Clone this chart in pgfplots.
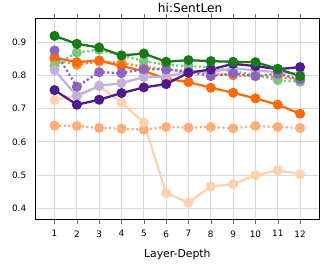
\documentclass[border=0pt]{standalone}
\usepackage{fontspec}
\setmainfont{DejaVu Sans}
\usepackage{pgfplots}
\pgfplotsset{compat=1.18}
\definecolor{dgreen}{HTML}{1A7A1A}
\definecolor{lgreen}{HTML}{7CC67C}
\definecolor{dorange}{HTML}{FD6A0A}
\definecolor{morange}{HTML}{FD8D3C}
\definecolor{lorange}{HTML}{FDAE7B}
\definecolor{peach}{HTML}{FDD3AE}
\definecolor{dpurple}{HTML}{4F1A8A}
\definecolor{mpurple}{HTML}{8E64BE}
\definecolor{lpurple}{HTML}{C4B0DD}
\begin{document}
\begin{tikzpicture}[x=1bp,y=1bp]
\begin{axis}[
  scale only axis,
  width=287bp, height=203bp,
  xmin=0.15, xmax=12.85, ymin=0.368, ymax=0.971,
  xtick={1,...,12}, ytick={0.4,0.5,0.6,0.7,0.8,0.9},
  yticklabels={0.4,0.5,0.6,0.7,0.8,0.9},
  /pgf/number format/assume math mode=true,
  tick label style={font=\fontsize{9}{10}\selectfont},
  xticklabel style={yshift=-3bp},
  yticklabel style={xshift=-1bp},
  xtick style={draw=black!60, line width=0.5bp},
  ytick style={draw=none},
  tick align=outside,
  major tick length=5bp,
  grid=major,
  grid style={gray!30, line width=1bp},
  axis line style={line width=1bp},
  title={hi:SentLen},
  title style={font=\fontsize{12.3}{14}\selectfont, yshift=-3.5bp, xshift=13bp},
  xlabel={Layer-Depth},
  xlabel style={font=\fontsize{11}{13}\selectfont, yshift=-5.5bp},
  every axis plot/.append style={line width=2.3bp, mark=*, mark size=3.9bp},
  sol/.style={solid},
  dot/.style={dash pattern=on 2.2bp off 2.4bp},
]
\addplot[color=lorange, dot, mark options={solid}] coordinates {(1,0.649)(2,0.648)(3,0.642)(4,0.640)(5,0.637)(6,0.645)(7,0.643)(8,0.645)(9,0.641)(10,0.648)(11,0.645)(12,0.642)};
\addplot[color=peach, sol] coordinates {(1,0.726)(2,0.740)(3,0.768)(4,0.718)(5,0.659)(6,0.446)(7,0.418)(8,0.466)(9,0.473)(10,0.500)(11,0.515)(12,0.503)};
\addplot[color=morange, dot, mark options={solid}] coordinates {(1,0.847)(2,0.832)(3,0.842)(4,0.838)(5,0.826)(6,0.818)(7,0.812)(8,0.806)(9,0.800)(10,0.798)(11,0.795)(12,0.788)};
\addplot[color=dorange, sol] coordinates {(1,0.854)(2,0.840)(3,0.845)(4,0.828)(5,0.813)(6,0.790)(7,0.780)(8,0.763)(9,0.748)(10,0.731)(11,0.712)(12,0.685)};
\addplot[color=lgreen, dot, mark options={solid}] coordinates {(1,0.829)(2,0.869)(3,0.877)(4,0.860)(5,0.843)(6,0.832)(7,0.828)(8,0.824)(9,0.812)(10,0.802)(11,0.786)(12,0.781)};
\addplot[color=lpurple, sol] coordinates {(1,0.816)(2,0.738)(3,0.769)(4,0.777)(5,0.795)(6,0.796)(7,0.813)(8,0.810)(9,0.822)(10,0.815)(11,0.810)(12,0.805)};
\addplot[color=mpurple, dot, mark options={solid}] coordinates {(1,0.875)(2,0.766)(3,0.810)(4,0.807)(5,0.819)(6,0.818)(7,0.811)(8,0.798)(9,0.806)(10,0.798)(11,0.805)(12,0.788)};
\addplot[color=dpurple, sol] coordinates {(1,0.756)(2,0.712)(3,0.727)(4,0.747)(5,0.764)(6,0.774)(7,0.808)(8,0.818)(9,0.835)(10,0.828)(11,0.819)(12,0.825)};
\addplot[color=dgreen, sol] coordinates {(1,0.919)(2,0.895)(3,0.884)(4,0.860)(5,0.866)(6,0.841)(7,0.846)(8,0.843)(9,0.841)(10,0.840)(11,0.820)(12,0.798)};
\end{axis}
\path ([shift={(-36bp,-41bp)}]current axis.south west) ([shift={(1bp,15bp)}]current axis.north east);
\end{tikzpicture}
\end{document}
